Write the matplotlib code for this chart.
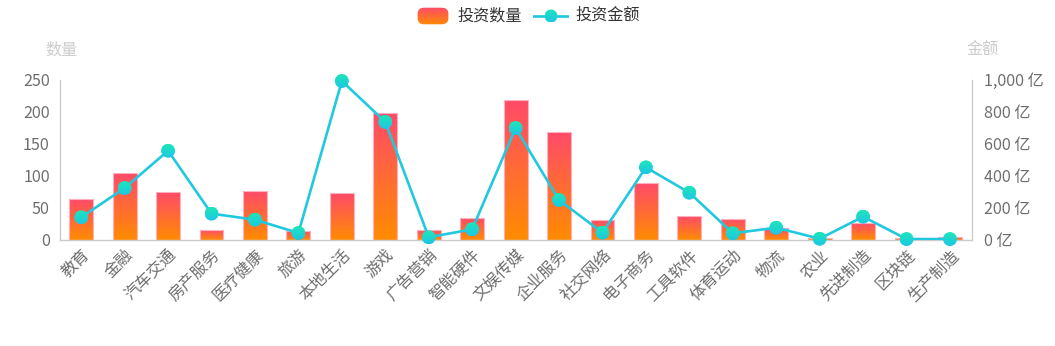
import matplotlib
matplotlib.use("Agg")
import matplotlib.pyplot as plt
import numpy as np
from matplotlib.patches import Circle, FancyBboxPatch
from matplotlib.colors import LinearSegmentedColormap
from matplotlib.ticker import FuncFormatter
import matplotlib.transforms as mtransforms

plt.rcParams["font.family"] = ["Noto Sans CJK SC", "DejaVu Sans"]

# ---------- data -------------------------------------------------------------

categories = ["教育", "金融", "汽车交通", "房产服务", "医疗健康", "旅游", "本地生活",
              "游戏", "广告营销", "智能硬件", "文娱传媒", "企业服务", "社交网络",
              "电子商务", "工具软件", "体育运动", "物流", "农业", "先进制造",
              "区块链", "生产制造"]
counts = [63, 104, 75, 15, 76, 14, 73, 198, 15, 34, 219, 169, 31, 89, 37, 33,
          18, 3, 26, 3, 4]
amounts = [140, 323, 556, 163, 125, 42, 992, 736, 15, 65, 698, 248, 44, 452,
           294, 40, 75, 6, 144, 4, 4]

left_ticks = [0, 50, 100, 150, 200, 250]
right_ticks = [0, 200, 400, 600, 800, 1000]

# ---------- styles -----------------------------------------------------------

bar_cmap = LinearSegmentedColormap.from_list("bar", ["#ff8c00", "#ff4a6a"])
dot_cmap = LinearSegmentedColormap.from_list("dot", ["#1dc6e6", "#1de6b8"])
line_color = "#20c9df"
label_color = "#6e6e6e"
name_color = "#cccccc"
axis_color = "#cccccc"
fs = 11.6

W, H, DPI = 1055, 346, 100
fig = plt.figure(figsize=(W / DPI, H / DPI), dpi=DPI)
x0, x1, yb, yt = 59.5, 971.7, 239.7, 79.7
ax = fig.add_axes([x0 / W, 1 - yb / H, (x1 - x0) / W, (yb - yt) / H])
ax2 = ax.twinx()

x = np.arange(len(categories))
ax.set_xlim(-0.5, len(categories) - 0.5)
ax.set_ylim(0, 250)
ax2.set_ylim(0, 1000)

grad = np.linspace(0, 1, 256).reshape(-1, 1)

# gradient bars: invisible bars used as clip paths for an image each
bars = ax.bar(x, counts, width=0.55, facecolor="none", edgecolor="none", zorder=2)
for rect, v in zip(bars, counts):
    xl = rect.get_x()
    im = ax.imshow(grad, cmap=bar_cmap, origin="lower", aspect="auto",
                   extent=[xl, xl + rect.get_width(), 0, v], zorder=2)
    im.set_clip_path(rect)
    ax.add_patch(plt.Rectangle((xl, 0), rect.get_width(), v, fill=False,
                               edgecolor="#ffb0bf", linewidth=0.8, zorder=3))
ax.set_xlim(-0.5, len(categories) - 0.5)
ax.set_ylim(0, 250)

# amount line
ax2.plot(x, amounts, color=line_color, linewidth=1.9, zorder=4)

# gradient markers, radius in pixels
r_px = 7.0
dx = r_px * len(categories) / (x1 - x0)
dy = r_px * 1000 / (yb - yt)
for xi, v in zip(x, amounts):
    trans = mtransforms.ScaledTranslation(xi, v, ax2.transData)
    circ = Circle((0, 0), radius=r_px, transform=mtransforms.IdentityTransform() + trans,
                  facecolor="none", edgecolor="none", clip_on=False)
    ax2.add_patch(circ)
    im = ax2.imshow(grad, cmap=dot_cmap, origin="lower", aspect="auto",
                    extent=[xi - dx, xi + dx, v - dy, v + dy], zorder=5)
    im.set_clip_path(circ)
    im.set_clip_box(fig.bbox)
ax2.set_xlim(-0.5, len(categories) - 0.5)
ax2.set_ylim(0, 1000)

# ---------- axes -------------------------------------------------------------

for a in (ax, ax2):
    for s in a.spines.values():
        s.set_color(axis_color)
        s.set_linewidth(1)
    a.spines["top"].set_visible(False)
ax.spines["right"].set_visible(False)
ax2.spines["left"].set_visible(False)
ax2.spines["bottom"].set_visible(False)

ax.set_yticks(left_ticks)
ax2.set_yticks(right_ticks)
ax2.yaxis.set_major_formatter(FuncFormatter(lambda v, p: f"{int(v):,} 亿"))
ax.tick_params(axis="y", length=0, pad=7, labelsize=fs, labelcolor=label_color)
ax2.tick_params(axis="y", length=0, pad=9, labelsize=fs, labelcolor=label_color)
ax.set_xticks(x)
ax.set_xticklabels(categories, rotation=45, ha="right", va="top",
                   rotation_mode="anchor", fontsize=fs, color=label_color)
ax.tick_params(axis="x", length=0, pad=5)

fig.text(45 / W, 1 - 50 / H, "数量", fontsize=fs, color=name_color,
         ha="left", va="center")
fig.text(966 / W, 1 - 50 / H, "金额", fontsize=fs, color=name_color,
         ha="left", va="center")

# ---------- legend -----------------------------------------------------------

sw = fig.add_axes([417 / W, 1 - 25 / H, 32 / W, 18 / H])
sw.set_xlim(0, 1)
sw.set_ylim(0, 1)
sw.axis("off")
box = FancyBboxPatch((0.02, 0.04), 0.96, 0.92, boxstyle="round,pad=0,rounding_size=0.2",
                     transform=sw.transAxes, facecolor="none", edgecolor="none",
                     mutation_aspect=1.7)
sw.add_patch(box)
im = sw.imshow(grad, cmap=bar_cmap, origin="lower", aspect="auto", extent=[0, 1, 0, 1])
im.set_clip_path(box)
fig.text(457 / W, 1 - 15.5 / H, "投资数量", fontsize=fs, color="#333333",
         ha="left", va="center")

lg = fig.add_axes([533 / W, 1 - 25 / H, 36 / W, 18 / H])
lg.set_xlim(0, 36)
lg.set_ylim(0, 18)
lg.axis("off")
lg.plot([0, 36], [9, 9], color=line_color, linewidth=1.9)
c2 = Circle((18, 9), 6.5, facecolor="none", edgecolor="none")
lg.add_patch(c2)
im = lg.imshow(grad, cmap=dot_cmap, origin="lower", aspect="auto",
               extent=[11.5, 24.5, 2.5, 15.5], zorder=3)
im.set_clip_path(c2)
lg.set_xlim(0, 36)
lg.set_ylim(0, 18)
fig.text(575 / W, 1 - 15.5 / H, "投资金额", fontsize=fs, color="#333333",
         ha="left", va="center")

fig.savefig("out.png", dpi=DPI)
